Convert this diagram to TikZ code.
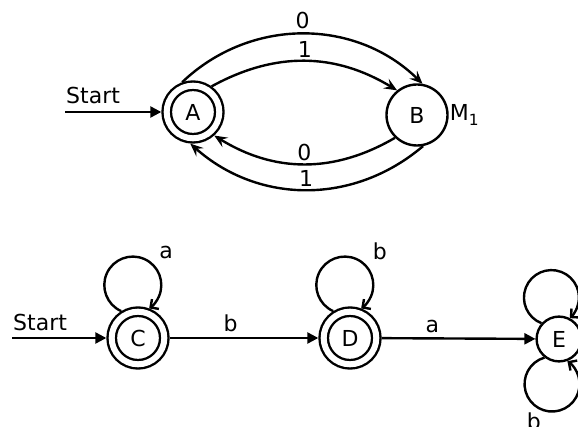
\documentclass[tikz,border=0pt]{standalone}
\usepackage{fontspec}
\setmainfont{DejaVu Sans}
\usetikzlibrary{positioning}
\usetikzlibrary{arrows.meta}

\begin{document}
\begin{tikzpicture}
    [
    x=1pt, y=1pt,
    on grid,
    every node/.style={font=\fontsize{22pt}{26pt}\selectfont},
    state/.style={circle, draw, line width=2.4pt, minimum size=61pt, inner sep=0pt},
    final state/.style={state, double, double distance=6pt, minimum size=52.6pt, outer sep=5.4pt},
    trap state/.style={state, minimum size=44.8pt},
    lbl/.style={inner sep=2pt},
    main edge/.style={line width=2.4pt, -{Triangle[length=11pt, width=11pt]}},
    arc edge/.style={line width=2.4pt, -{Stealth[length=13pt, width=11pt, inset=5pt]}},
    loop edge/.style={line width=2.4pt, -{Straight Barb[length=6pt, width=12pt]}},
    ]

    \useasboundingbox (0,0) rectangle (578,426);
    \clip (0,0) rectangle (578,426);

    % machine M1
    \node[final state] (st_A) at (193,314) {A};
    \node[state, right=224pt of st_A, yshift=-3pt] (st_B) {B};
    \node[anchor=west, inner sep=1pt] (lbl_m1) at (st_B.east) {M\textsubscript{1}};

    \coordinate[left=128pt of st_A] (start_top);
    \draw[main edge] (start_top) node[anchor=south west, inner sep=0pt, yshift=7pt] (lbl_start_top) {Start} -- (st_A);

    \draw[arc edge] (st_A.110) to[bend left=44] node[lbl, above=2pt] (lbl_top_0) {0} (st_B.80);
    \draw[arc edge] (st_A.54) to[bend left=30] node[lbl, above] (lbl_top_1) {1} (st_B.129);
    \draw[arc edge] (st_B.226) to[bend left=31] node[lbl, above] (lbl_bot_0) {0} (st_A.-48);
    \draw[arc edge] (st_B.-79) to[bend left=41] node[lbl, above] (lbl_bot_1) {1} (st_A.-95);

    % second machine
    \node[final state, below left=226pt and 55pt of st_A] (st_C) {C};
    \node[final state, right=212pt of st_C] (st_D) {D};
    \node[trap state, right=209pt of st_D, yshift=-1pt] (st_E) {E};

    \coordinate[left=126pt of st_C] (start_bot);
    \draw[main edge] (start_bot) node[anchor=south west, inner sep=0pt, yshift=5.5pt] (lbl_start_bot) {Start} -- (st_C);

    \draw[main edge] (st_C) -- node[lbl, pos=0.41, above=2.5pt] (lbl_cd) {b} (st_D);
    \draw[main edge] (st_D) -- node[lbl, pos=0.33, above=2.5pt] (lbl_de) {a} (st_E);

    \draw[loop edge] (st_C.122) arc[start angle=246, end angle=-55, radius=28.5]
        node[lbl, pos=0.67, above right=3pt and 3pt] (lbl_c_a) {a};
    \draw[loop edge] (st_D.122) arc[start angle=246, end angle=-55, radius=28.5]
        node[lbl, pos=0.67, above right=2.5pt and 4.5pt] (lbl_d_b) {b};
    \draw[loop edge] (st_E.138) arc[start angle=248.7, end angle=-48.3, radius=27.5]
        node[lbl, pos=0.686, above right=4pt and 3.5pt] (lbl_e_a) {a};
    \draw[loop edge] (st_E.232) arc[start angle=106, end angle=416, radius=27.5]
        node[lbl, pos=0.442, below=1pt, xshift=-5.6pt] (lbl_e_b) {b};
\end{tikzpicture}
\end{document}
